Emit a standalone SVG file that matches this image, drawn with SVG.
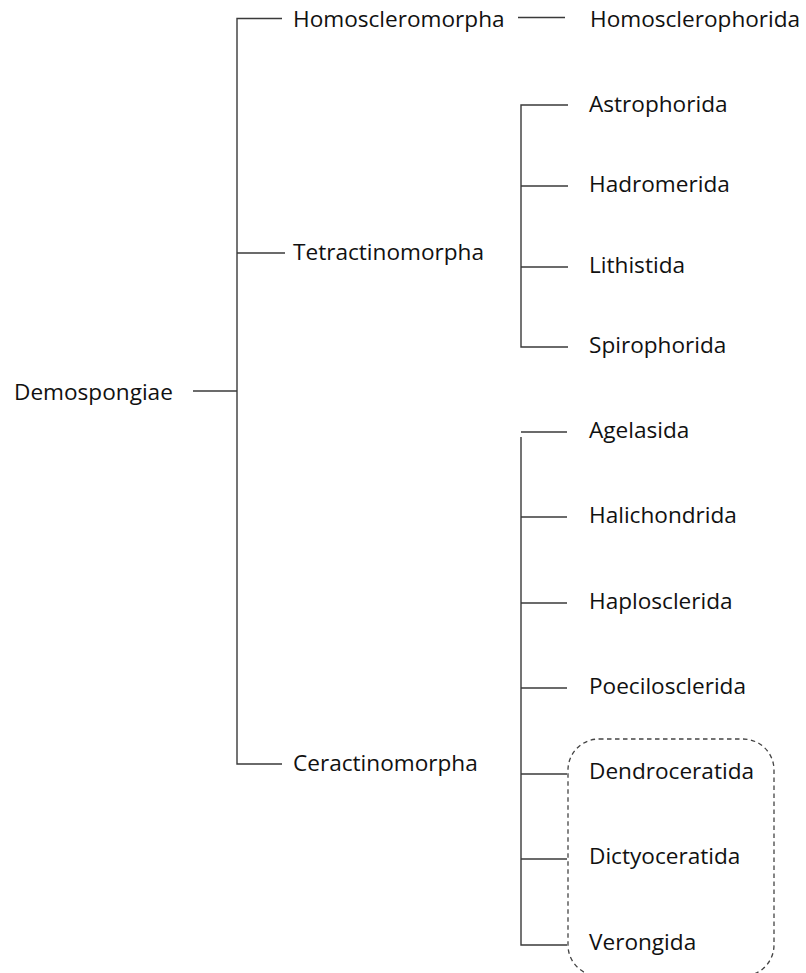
<svg xmlns="http://www.w3.org/2000/svg" width="806" height="973" viewBox="0 0 806 973">
<style>
text{font-family:"Open Sans","Noto Sans","Liberation Sans",sans-serif;font-size:22.6px;fill:#111}
.c line,.c path{stroke:#3a3a3a;stroke-width:1.4;fill:none}
.box{fill:none;stroke:#444;stroke-width:1.3;stroke-dasharray:4.5 3.5}
</style>
<rect width="806" height="973" fill="#fff"/>
<g id="connectors" class="c">
<line x1="193" y1="391" x2="237" y2="391"/>
<path d="M282 18.5H237V764H282"/>
<line x1="237" y1="253" x2="285" y2="253"/>
<line x1="518" y1="17.5" x2="565" y2="17.5"/>
<path d="M568 105H521V347H568"/>
<line x1="521" y1="186" x2="568" y2="186"/>
<line x1="521" y1="267" x2="568" y2="267"/>
<line x1="521" y1="432" x2="567" y2="432"/>
<path d="M521 437V945H567"/>
<line x1="521" y1="517" x2="567" y2="517"/>
<line x1="521" y1="603" x2="567" y2="603"/>
<line x1="521" y1="688" x2="567" y2="688"/>
<line x1="521" y1="774" x2="567" y2="774"/>
<line x1="521" y1="859" x2="567" y2="859"/>
</g>
<g id="group-box"><rect class="box" x="568" y="739" width="206" height="237" rx="31" ry="31"/></g>
<g id="Demospongiae"><text x="14" y="400">Demospongiae</text></g>
<g id="Homoscleromorpha"><text x="293" y="27">Homoscleromorpha</text></g>
<g id="Tetractinomorpha"><text x="293" y="260">Tetractinomorpha</text></g>
<g id="Ceractinomorpha"><text x="293" y="771">Ceractinomorpha</text></g>
<g id="Homosclerophorida"><text x="590" y="27">Homosclerophorida</text></g>
<g id="Astrophorida"><text x="589" y="112">Astrophorida</text></g>
<g id="Hadromerida"><text x="589" y="192">Hadromerida</text></g>
<g id="Lithistida"><text x="589" y="273">Lithistida</text></g>
<g id="Spirophorida"><text x="589" y="353">Spirophorida</text></g>
<g id="Agelasida"><text x="589" y="438">Agelasida</text></g>
<g id="Halichondrida"><text x="589" y="523">Halichondrida</text></g>
<g id="Haplosclerida"><text x="589" y="609">Haplosclerida</text></g>
<g id="Poecilosclerida"><text x="589" y="694">Poecilosclerida</text></g>
<g id="Dendroceratida"><text x="589" y="779">Dendroceratida</text></g>
<g id="Dictyoceratida"><text x="589" y="864">Dictyoceratida</text></g>
<g id="Verongida"><text x="589" y="950">Verongida</text></g>
</svg>
